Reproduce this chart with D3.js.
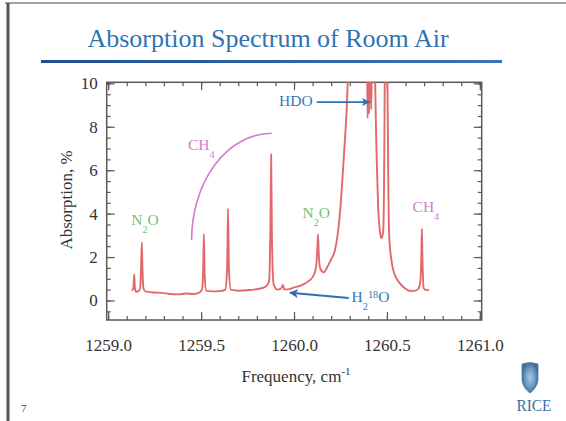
<!DOCTYPE html>
<html>
<head>
<meta charset="utf-8">
<script src="https://cdn.jsdelivr.net/npm/d3@7"></script>
<style>
  html, body { margin: 0; padding: 0; background: #ffffff; }
  svg { display: block; font-family: "Liberation Serif", "Times New Roman", serif; }
</style>
</head>
<body>
<svg id="chart" width="566" height="421"></svg>
<script>
// Measured absorption spectrum of room air (frequency in cm^-1, absorption in %)
const frequency = [
  1259.128, 1259.136, 1259.140, 1259.144, 1259.150, 1259.160, 1259.172, 1259.178, 1259.181, 1259.184,
  1259.190, 1259.200, 1259.240, 1259.290, 1259.330, 1259.380, 1259.420, 1259.460, 1259.490, 1259.505,
  1259.511, 1259.515, 1259.519, 1259.527, 1259.560, 1259.600, 1259.630, 1259.640, 1259.645, 1259.650,
  1259.660, 1259.700, 1259.760, 1259.820, 1259.850, 1259.866, 1259.873, 1259.877, 1259.881, 1259.890,
  1259.910, 1259.930, 1259.940, 1259.948, 1259.975, 1260.000, 1260.040, 1260.080, 1260.105, 1260.118,
  1260.125, 1260.129, 1260.134, 1260.142, 1260.160, 1260.180, 1260.200, 1260.220, 1260.236, 1260.250,
  1260.262, 1260.274, 1260.284, 1260.292, 1260.300, 1260.330, 1260.370, 1260.392, 1260.396, 1260.400,
  1260.404, 1260.410, 1260.416, 1260.420, 1260.432, 1260.436, 1260.441, 1260.445, 1260.453, 1260.462,
  1260.471, 1260.480, 1260.485, 1260.489, 1260.495, 1260.502, 1260.507, 1260.512, 1260.525, 1260.543,
  1260.570, 1260.597, 1260.620, 1260.650, 1260.670, 1260.680, 1260.685, 1260.688, 1260.691, 1260.697,
  1260.705, 1260.726
];
const absorption = [
  0.45, 0.60, 1.20, 0.55, 0.40, 0.42, 0.55, 1.80, 2.67, 1.60,
  0.55, 0.42, 0.37, 0.35, 0.30, 0.28, 0.32, 0.30, 0.36, 0.50,
  1.40, 3.05, 1.30, 0.45, 0.42, 0.43, 0.50, 1.50, 4.23, 1.40,
  0.50, 0.45, 0.48, 0.55, 0.65, 0.90, 3.50, 6.74, 3.00, 0.75,
  0.50, 0.55, 0.72, 0.50, 0.52, 0.60, 0.70, 0.90, 1.15, 1.50,
  2.30, 3.05, 2.00, 1.45, 1.30, 1.55, 1.90, 2.30, 3.10, 4.30,
  5.80, 7.40, 8.90, 10.8, 13.0, 15.0, 15.0, 12.0, 8.40, 11.0,
  8.60, 11.0, 8.80, 12.0, 11.0, 10.3, 8.00, 6.50, 4.25, 3.20,
  2.86, 3.20, 5.80, 11.0, 14.0, 11.0, 5.80, 3.00, 1.80, 1.17,
  0.79, 0.56, 0.45, 0.44, 0.55, 0.90, 2.00, 3.30, 2.00, 0.60,
  0.50, 0.48
];
const spectrum = frequency.map((f, i) => ({ f, v: absorption[i] }));

const xTicks = [1259.0, 1259.5, 1260.0, 1260.5, 1261.0];
const yTicks = [0, 2, 4, 6, 8, 10];
const titleText = "Absorption Spectrum of Room Air";
const yTitle = "Absorption, %";
const xTitle = "Frequency, cm";
const xTitleUnitExp = "-1";

const svg = d3.select("#chart");
const plot = { left: 106.7, right: 481.7, top: 82.3, bottom: 320 };

const x = d3.scaleLinear().domain([1258.992, 1261.01]).range([plot.left, plot.right]);
const y = d3.scaleLinear().domain([-0.9, 10.05]).range([plot.bottom, plot.top]);

// ---- slide frame ----
svg.append("line").attr("x1", 5).attr("x2", 566).attr("y1", 3).attr("y2", 3)
  .attr("stroke", "#8a8a8a").attr("stroke-width", 2).attr("opacity", 0.8);
svg.append("line").attr("x1", 8).attr("x2", 8).attr("y1", 3).attr("y2", 421)
  .attr("stroke", "#555").attr("stroke-width", 3);

// ---- title ----
svg.append("text")
  .attr("x", 268).attr("y", 47)
  .attr("text-anchor", "middle")
  .attr("font-size", 26)
  .attr("fill", "#2f74b2")
  .text(titleText);
const grad = svg.append("defs").append("linearGradient").attr("id", "rule");
grad.append("stop").attr("offset", "0%").attr("stop-color", "#1f4f8c");
grad.append("stop").attr("offset", "100%").attr("stop-color", "#3876b6");
svg.append("rect").attr("x", 41).attr("y", 60).attr("width", 461).attr("height", 3)
  .attr("fill", "url(#rule)");

// ---- axes (ticks point inward on all four sides) ----
const xMinor = d3.range(1259.0, 1261.001, 0.1);
const yMinor = d3.range(-0.5, 10.001, 0.5);
const axisColor = "#5a5a5a";

function styleAxis(g) {
  g.select(".domain").remove();
  g.selectAll("line").attr("stroke", axisColor).attr("stroke-width", 1.2);
  g.selectAll("text").attr("font-family", "Liberation Serif, serif")
    .attr("font-size", 17).attr("fill", "#333");
}

svg.append("g").attr("transform", `translate(0,${plot.bottom})`)
  .call(d3.axisBottom(x).tickValues(xMinor).tickSize(-4).tickFormat("")).call(styleAxis);
svg.append("g").attr("transform", `translate(0,${plot.bottom})`)
  .call(d3.axisBottom(x).tickValues(xTicks).tickSize(-8).tickPadding(19).tickFormat(d3.format(".1f")))
  .call(styleAxis);
svg.append("g").attr("transform", `translate(0,${plot.top})`)
  .call(d3.axisTop(x).tickValues(xMinor).tickSize(-4).tickFormat("")).call(styleAxis);
svg.append("g").attr("transform", `translate(0,${plot.top})`)
  .call(d3.axisTop(x).tickValues(xTicks).tickSize(-8).tickFormat("")).call(styleAxis);

svg.append("g").attr("transform", `translate(${plot.left},0)`)
  .call(d3.axisLeft(y).tickValues(yMinor).tickSize(-4).tickFormat("")).call(styleAxis);
svg.append("g").attr("transform", `translate(${plot.left},0)`)
  .call(d3.axisLeft(y).tickValues(yTicks).tickSize(-8).tickPadding(9).tickFormat(d3.format("d")))
  .call(styleAxis);
svg.append("g").attr("transform", `translate(${plot.right},0)`)
  .call(d3.axisRight(y).tickValues(yMinor).tickSize(-4).tickFormat("")).call(styleAxis);
svg.append("g").attr("transform", `translate(${plot.right},0)`)
  .call(d3.axisRight(y).tickValues(yTicks).tickSize(-8).tickFormat("")).call(styleAxis);

svg.append("rect")
  .attr("x", plot.left).attr("y", plot.top)
  .attr("width", plot.right - plot.left).attr("height", plot.bottom - plot.top)
  .attr("fill", "none").attr("stroke", axisColor).attr("stroke-width", 1.5);

// axis titles
svg.append("text")
  .attr("transform", `translate(72,200) rotate(-90)`)
  .attr("text-anchor", "middle").attr("font-size", 17).attr("fill", "#333")
  .text(yTitle);
const xt = svg.append("text")
  .attr("x", 296).attr("y", 382)
  .attr("text-anchor", "middle").attr("font-size", 17).attr("fill", "#333");
xt.append("tspan").text(xTitle);
xt.append("tspan").attr("dy", -7).attr("font-size", 11).text(xTitleUnitExp);

// ---- spectrum ----
svg.append("clipPath").attr("id", "plotClip").append("rect")
  .attr("x", plot.left).attr("y", plot.top)
  .attr("width", plot.right - plot.left).attr("height", plot.bottom - plot.top);

const line = d3.line().x(d => x(d.f)).y(d => y(d.v)).curve(d3.curveMonotoneX);
svg.append("path")
  .datum(spectrum)
  .attr("clip-path", "url(#plotClip)")
  .attr("d", line)
  .attr("fill", "none")
  .attr("stroke", "#e2686c")
  .attr("stroke-width", 1.9)
  .attr("stroke-linejoin", "round");

// ---- species labels ----
const green = "#74c074", magenta = "#d47ad2", blue = "#3577b6";

function chemLabel(fx, vy, parts, color, size) {
  const t = svg.append("text")
    .attr("x", x(fx)).attr("y", y(vy))
    .attr("font-size", size).attr("fill", color);
  let shift = 0;
  parts.forEach(p => {
    const s = t.append("tspan").text(p.t);
    const target = p.sub ? 8 : p.sup ? -4 : 0;
    s.attr("dy", target - shift);
    if (p.sub || p.sup) s.attr("font-size", size * 0.66);
    shift = target;
  });
  return t;
}

chemLabel(1259.124, 3.47, [{ t: "N" }, { t: "2", sub: true }, { t: "O" }], green, 15.5);
chemLabel(1260.046, 3.78, [{ t: "N" }, { t: "2", sub: true }, { t: "O" }], green, 15.5);
chemLabel(1259.429, 6.93, [{ t: "CH" }, { t: "4", sub: true }], magenta, 15.5);
chemLabel(1260.638, 4.09, [{ t: "CH" }, { t: "4", sub: true }], magenta, 15.5);
chemLabel(1260.310, -0.06, [{ t: "H" }, { t: "2", sub: true }, { t: "18", sup: true }, { t: "O" }], blue, 15.5);
svg.append("text")
  .attr("x", x(1260.100)).attr("y", y(8.97))
  .attr("text-anchor", "end").attr("font-size", 15.5).attr("fill", blue)
  .text("HDO");

// CH4 bracket arc spanning the methane lines
const arcStart = { f: 1259.449, v: 2.78 }, arcEnd = { f: 1259.880, v: 7.70 };
const rx = x(arcEnd.f) - x(arcStart.f), ry = y(arcStart.v) - y(arcEnd.v);
svg.append("path")
  .attr("d", `M${x(arcStart.f)},${y(arcStart.v)} A${rx},${ry} 0 0 1 ${x(arcEnd.f)},${y(arcEnd.v)}`)
  .attr("fill", "none").attr("stroke", magenta).attr("stroke-width", 1.6);

// arrows
const defs = svg.select("defs");
defs.append("marker").attr("id", "arrowHead")
  .attr("viewBox", "0 0 10 10").attr("refX", 9).attr("refY", 5)
  .attr("markerWidth", 4.5).attr("markerHeight", 4.5).attr("orient", "auto")
  .append("path").attr("d", "M0,0 L10,5 L0,10 L2.5,5 Z").attr("fill", "#2f6fae");

svg.append("line")
  .attr("x1", x(1260.122)).attr("y1", y(9.14))
  .attr("x2", x(1260.405)).attr("y2", y(9.14))
  .attr("stroke", "#2f6fae").attr("stroke-width", 1.8)
  .attr("marker-end", "url(#arrowHead)");
svg.append("line")
  .attr("x1", x(1260.295)).attr("y1", y(0.11))
  .attr("x2", x(1259.978)).attr("y2", y(0.35))
  .attr("stroke", "#2f6fae").attr("stroke-width", 2)
  .attr("marker-end", "url(#arrowHead)");

// ---- footer: page number and university mark ----
svg.append("text").attr("x", 21).attr("y", 412)
  .attr("font-size", 11).attr("fill", "#444").text("7");

const shieldGrad = defs.append("radialGradient").attr("id", "shield");
shieldGrad.append("stop").attr("offset", "0%").attr("stop-color", "#a9c6df");
shieldGrad.append("stop").attr("offset", "60%").attr("stop-color", "#6f9cc4");
shieldGrad.append("stop").attr("offset", "100%").attr("stop-color", "#3f6f9f");
svg.append("path")
  .attr("d", "M522,364 Q530,361 538,364 L538,380 Q537,388 530,393 Q523,388 522,380 Z")
  .attr("fill", "url(#shield)").attr("stroke", "#4a78a6").attr("stroke-width", 0.8);
svg.append("text").attr("x", 534).attr("y", 411)
  .attr("text-anchor", "middle").attr("font-size", 17)
  .attr("textLength", 35).attr("lengthAdjust", "spacingAndGlyphs")
  .attr("fill", "#3a6fa6").text("RICE");
</script>
</body>
</html>
